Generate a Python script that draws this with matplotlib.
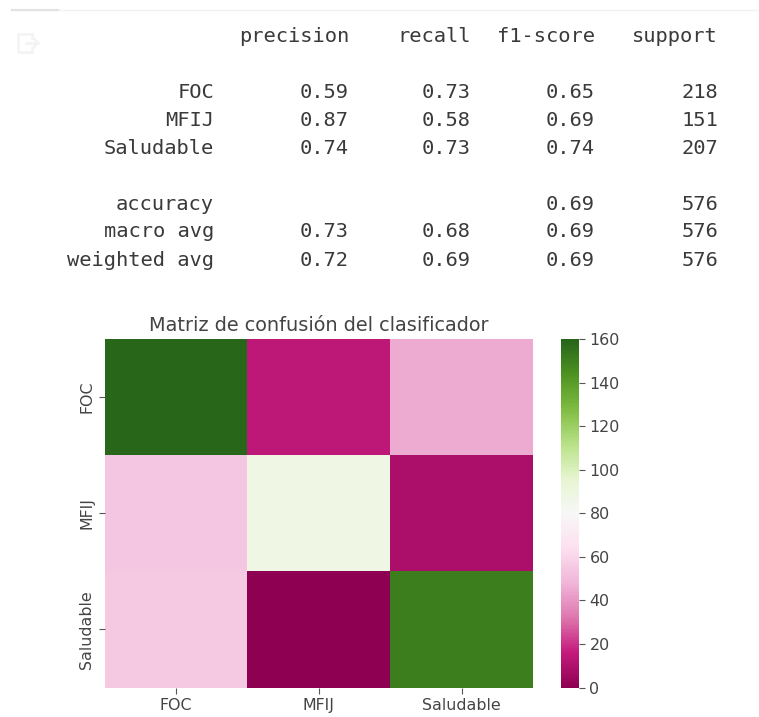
import numpy as np
import matplotlib
matplotlib.use('Agg')
import matplotlib.pyplot as plt
from matplotlib.lines import Line2D

W, H = 759, 717

report_header = ['precision', 'recall', 'f1-score', 'support']
report_labels = ['FOC', 'MFIJ', 'Saludable', 'accuracy', 'macro avg', 'weighted avg']
precision = ['0.59', '0.87', '0.74', '', '0.73', '0.72']
recall = ['0.73', '0.58', '0.73', '', '0.68', '0.69']
f1_score = ['0.65', '0.69', '0.74', '0.69', '0.69', '0.69']
support = ['218', '151', '207', '576', '576', '576']

classes = ['FOC', 'MFIJ', 'Saludable']
conf_matrix = [[159, 14, 45],
               [54, 88, 9],
               [55, 0, 151]]
cbar_ticks = [0, 20, 40, 60, 80, 100, 120, 140, 160]

fig = plt.figure(figsize=(W / 100, H / 100), dpi=100)


def fx(x):
    return x / W


def fy(y):
    return 1 - y / H


def page_line(xs, ys, color, lw):
    fig.add_artist(Line2D([fx(x) for x in xs], [fy(y) for y in ys], color=color, lw=lw))


# notebook cell decoration at the top
page_line([12, W], [10, 10], '#f2f2f2', 1)
page_line([12, 58], [10, 10], '#e2e2e2', 1.5)
# faint output icon
page_line([32, 18, 18, 32], [34, 34, 52, 52], '#f3f3f3', 1.8)
page_line([32, 32], [34, 38], '#f3f3f3', 1.8)
page_line([32, 32], [48, 52], '#f3f3f3', 1.8)
page_line([26, 38], [43, 43], '#f3f3f3', 1.8)
page_line([34, 38, 34], [39, 43, 47], '#f3f3f3', 1.8)

# classification report
col_right = [349, 471, 595, 718]
row_y = [37, 92, 120, 148, 204, 232, 260]
mono = dict(family='DejaVu Sans Mono', fontsize=14.7, color='#3a3a3a', ha='right', va='center')

for x, name in zip(col_right, report_header):
    fig.text(fx(x), fy(row_y[0]), name, **mono)
for y, name in zip(row_y[1:], report_labels):
    fig.text(fx(214), fy(y), name, **mono)
for x, col in zip(col_right, [precision, recall, f1_score, support]):
    for y, val in zip(row_y[1:], col):
        if val:
            fig.text(fx(x), fy(y), val, **mono)

# confusion matrix
ax = fig.add_axes([fx(104.5), fy(687.5), 428.5 / W, 348.5 / H])
mesh = ax.pcolormesh(np.array(conf_matrix), cmap='PiYG', vmin=0, vmax=160)
ax.invert_yaxis()
ax.set_xticks([0.5, 1.5, 2.5])
ax.set_xticklabels(classes)
ax.set_yticks([0.5, 1.5, 2.5])
ax.set_yticklabels(classes, rotation=90, va='center')
ax.tick_params(labelsize=11.4, labelcolor='#444444', color='#555555', length=4, width=0.8)
for s in ax.spines.values():
    s.set_visible(False)
ax.set_title('Matriz de confusión del clasificador', fontsize=13.9, color='#444444', pad=6)

cax = fig.add_axes([fx(561), fy(687.5), 18 / W, 348.5 / H])
cbar = fig.colorbar(mesh, cax=cax)
cbar.set_ticks(cbar_ticks)
cbar.ax.tick_params(labelsize=11.4, labelcolor='#444444', color='#555555', length=4, width=0.8)
cbar.outline.set_visible(False)

fig.savefig('out.png', dpi=100)
